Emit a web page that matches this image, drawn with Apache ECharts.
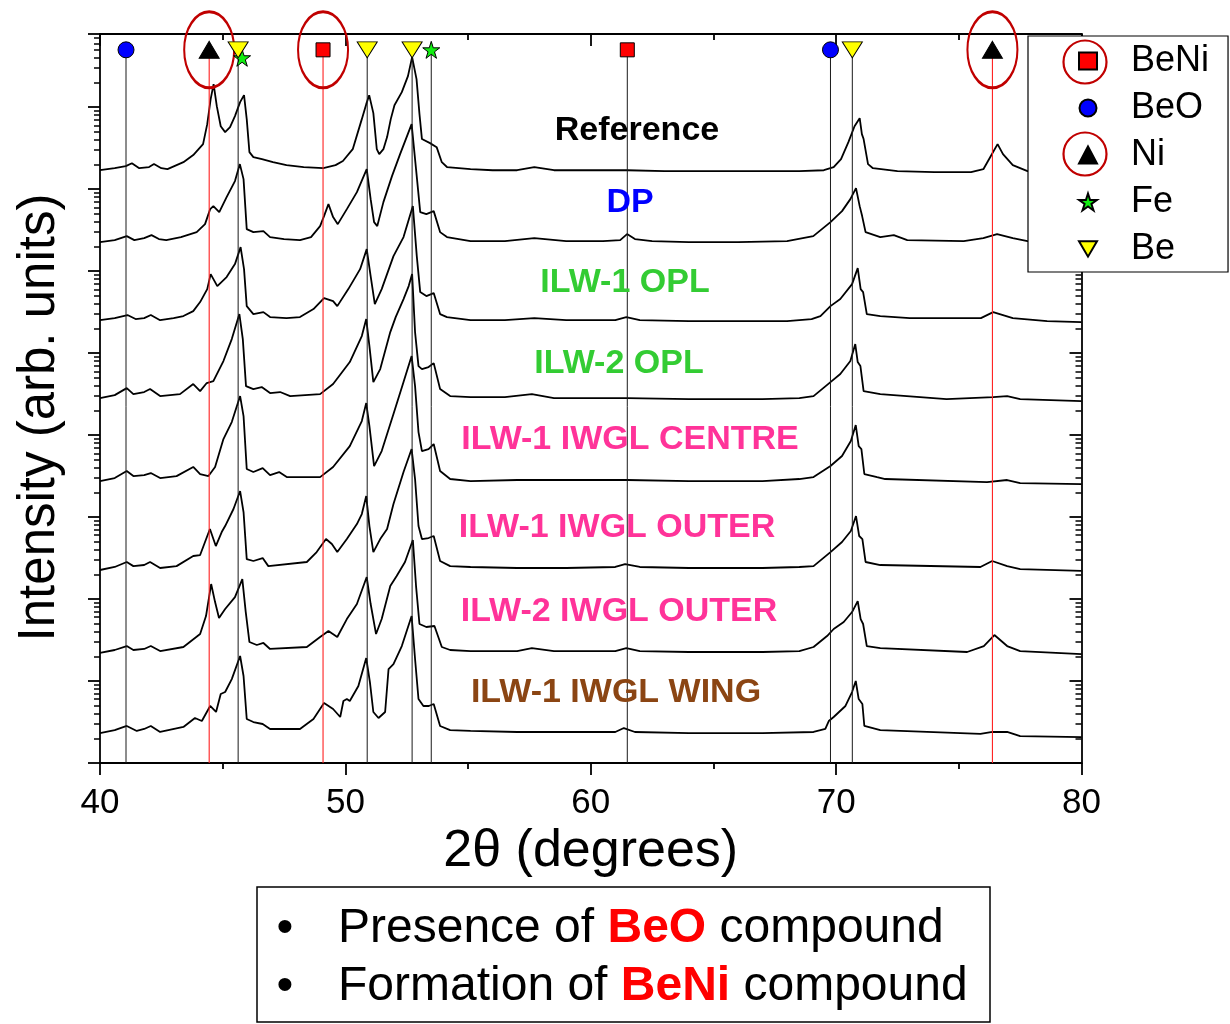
<!DOCTYPE html>
<html><head><meta charset="utf-8">
<script src="https://cdn.jsdelivr.net/npm/echarts@6/dist/echarts.min.js"></script>
<style>html,body{margin:0;padding:0;background:#fff}#c{width:1230px;height:1024px}</style>
</head><body><div id="c"></div>
<script>
// ---- DATA: XRD patterns, [2theta (deg), intensity (counts)] ----
const reference = [[40.0,170],[40.6,180],[41.05,191],[41.3,207],[41.6,180],[42.0,186],[42.2,202],[42.5,180],[42.75,175],[43.4,213],[43.8,260],[44.2,354],[44.37,620],[44.51,1253],[44.63,1908],[44.76,1028],[44.92,585],[45.1,496],[45.3,570],[45.5,777],[45.71,1151],[45.87,1400],[45.98,714],[46.09,283],[46.25,246],[46.6,232],[47.05,213],[47.6,196],[48.3,186],[49.1,180],[49.6,196],[49.9,220],[50.3,307],[50.67,714],[50.85,1088],[50.97,1400],[51.14,845],[51.28,307],[51.38,267],[51.55,307],[51.7,431],[51.85,714],[52.0,1056],[52.3,1524],[52.55,2387],[52.72,4074],[52.9,2196],[53.02,822],[53.12,408],[53.45,364],[53.72,325],[53.93,213],[54.14,186],[55.1,175],[56.0,170],[57.0,170],[57.7,186],[58.5,170],[60.0,170],[61.5,170],[63.0,166],[65.0,166],[67.0,166],[68.5,166],[69.5,170],[69.9,186],[70.2,232],[70.5,374],[70.75,585],[70.96,734],[71.05,469],[71.12,408],[71.3,202],[71.5,180],[72.5,166],[74.0,161],[75.5,161],[76.0,175],[76.3,252],[76.58,354],[76.8,267],[77.2,196],[77.8,166],[78.5,161],[80.0,161]];
const dp = [[40.0,226],[40.6,239],[41.09,267],[41.4,239],[41.8,252],[42.1,275],[42.4,246],[42.7,239],[43.3,260],[43.94,299],[44.28,374],[44.49,570],[44.62,620],[44.86,525],[45.16,800],[45.5,1253],[45.7,2018],[45.85,1325],[45.98,325],[46.25,299],[46.66,307],[46.93,260],[47.5,246],[48.15,239],[48.6,260],[48.97,354],[49.13,469],[49.31,656],[49.5,456],[49.69,374],[50.06,570],[50.47,918],[50.87,1753],[51.03,755],[51.17,396],[51.3,354],[51.55,694],[51.9,1440],[52.23,2672],[52.7,6206],[52.88,1753],[53.05,525],[53.3,496],[53.6,539],[53.86,299],[54.14,260],[55.1,232],[56.5,232],[57.7,252],[59.0,232],[60.5,232],[61.2,239],[61.48,283],[61.8,246],[62.5,232],[64.0,226],[66.0,226],[68.0,232],[69.07,267],[69.77,396],[70.24,539],[70.58,755],[70.81,1028],[70.96,620],[71.06,469],[71.2,299],[71.8,260],[72.35,275],[72.9,239],[75.2,232],[76.0,252],[76.56,283],[77.2,252],[77.8,232],[80.0,226]];
const opl1 = [[40.0,252],[40.6,267],[41.12,291],[41.45,260],[41.8,267],[42.07,291],[42.45,252],[43.0,267],[43.4,283],[43.8,325],[44.08,419],[44.37,603],[44.51,919],[44.78,656],[45.16,845],[45.5,1217],[45.73,1962],[45.87,1056],[45.98,374],[46.25,299],[46.66,316],[46.93,275],[47.6,267],[48.15,275],[48.7,344],[49.13,469],[49.5,431],[49.67,374],[50.12,603],[50.6,1056],[50.87,1855],[51.03,869],[51.2,396],[51.48,603],[51.96,1524],[52.37,2598],[52.75,6206],[52.91,1524],[53.05,555],[53.3,496],[53.6,539],[53.86,299],[54.14,275],[55.1,252],[56.5,252],[57.7,267],[59.0,252],[61.0,252],[61.45,275],[62.0,252],[64.0,246],[66.0,246],[68.0,246],[69.0,260],[69.36,283],[69.77,374],[70.17,456],[70.65,694],[70.88,1088],[71.0,603],[71.1,555],[71.25,299],[71.8,283],[73.0,267],[75.9,267],[76.4,316],[77.2,267],[78.6,246],[80.0,239]];
const opl2 = [[40.0,283],[40.6,307],[41.09,374],[41.36,316],[41.8,335],[42.04,364],[42.45,299],[43.26,316],[43.8,419],[44.08,344],[44.35,431],[44.62,456],[45.03,800],[45.37,1482],[45.68,2990],[45.82,1482],[45.95,396],[46.25,364],[46.59,385],[46.93,325],[47.34,335],[47.75,299],[48.97,316],[49.5,419],[50.18,777],[50.67,1612],[50.85,2598],[50.98,1217],[51.14,443],[51.42,638],[51.83,1804],[52.05,2749],[52.37,4556],[52.58,6565],[52.72,9195],[52.84,1804],[52.98,694],[53.12,638],[53.39,675],[53.6,755],[53.86,364],[54.27,299],[55.1,291],[56.5,291],[57.6,316],[58.5,283],[61.5,283],[64.0,275],[67.0,275],[68.5,283],[69.08,299],[69.77,443],[70.17,555],[70.58,800],[70.78,1288],[70.88,777],[70.99,694],[71.12,344],[71.8,316],[74.5,275],[76.4,291],[76.97,299],[77.5,275],[80.0,260]];
const centre = [[40.0,275],[40.6,299],[41.09,364],[41.36,316],[41.8,325],[42.07,344],[42.45,299],[43.12,316],[43.8,408],[44.08,335],[44.42,316],[44.69,408],[45.03,894],[45.37,1440],[45.71,2990],[45.85,1705],[45.98,385],[46.25,354],[46.63,396],[46.93,325],[47.3,354],[47.61,307],[48.97,307],[49.5,408],[50.18,734],[50.67,1482],[50.85,2457],[50.98,1288],[51.17,419],[51.48,638],[51.96,1804],[52.37,4431],[52.7,9195],[52.84,3959],[52.98,1088],[53.12,638],[53.39,675],[53.6,777],[53.86,364],[54.27,291],[55.1,275],[57.0,283],[59.0,283],[61.5,283],[64.0,275],[67.0,275],[68.5,291],[69.08,307],[69.77,419],[70.24,555],[70.6,845],[70.8,1325],[70.92,734],[71.03,675],[71.15,335],[71.67,307],[72.0,291],[76.15,267],[76.97,283],[77.5,260],[80.0,252]];
const outer1 = [[40.0,226],[40.6,246],[41.09,283],[41.36,252],[41.8,260],[42.04,283],[42.45,239],[43.12,252],[43.8,335],[44.08,344],[44.28,496],[44.48,714],[44.72,443],[44.96,656],[45.1,777],[45.44,1253],[45.71,2075],[45.85,1151],[45.98,307],[46.25,291],[46.63,316],[46.86,252],[48.43,283],[48.83,374],[49.21,539],[49.45,469],[49.67,374],[50.06,539],[50.47,822],[50.67,1088],[50.85,1804],[50.98,777],[51.14,374],[51.42,539],[51.7,714],[51.96,1440],[52.37,3539],[52.7,6751],[52.84,2907],[52.98,777],[53.12,539],[53.39,555],[53.6,587],[53.86,291],[54.27,252],[55.1,246],[57.0,239],[59.0,239],[61.0,246],[61.4,267],[62.0,246],[64.0,239],[67.0,239],[68.5,246],[69.08,252],[69.77,374],[70.24,496],[70.6,675],[70.81,1028],[70.94,587],[71.07,539],[71.2,283],[71.8,260],[75.88,246],[76.36,291],[76.97,252],[77.5,232],[80.0,220]];
const outer2 = [[40.0,220],[40.6,239],[41.09,267],[41.36,239],[41.8,246],[42.07,267],[42.45,232],[43.4,260],[44.08,374],[44.32,620],[44.53,1524],[44.69,918],[44.85,587],[45.1,755],[45.5,1056],[45.8,1753],[45.94,694],[46.09,299],[46.39,275],[46.66,291],[46.93,246],[48.43,260],[48.97,344],[49.31,408],[49.67,344],[50.06,570],[50.47,869],[50.87,1855],[51.03,869],[51.25,374],[51.48,570],[51.83,1440],[52.09,1908],[52.43,2826],[52.75,5243],[52.88,1440],[53.02,496],[53.3,456],[53.63,469],[53.93,260],[54.27,239],[55.1,232],[57.0,232],[57.6,252],[58.5,232],[61.0,232],[61.45,252],[62.0,232],[64.0,226],[67.0,226],[68.5,232],[69.08,260],[69.63,354],[69.9,431],[70.31,525],[70.65,694],[70.88,945],[71.0,570],[71.1,496],[71.25,267],[71.8,252],[75.34,226],[76.02,267],[76.45,364],[76.97,267],[77.5,232],[80.0,213]];
const wing = [[40.0,232],[40.6,252],[41.09,283],[41.5,246],[41.8,260],[42.07,283],[42.45,239],[43.4,275],[43.87,354],[44.15,325],[44.49,496],[44.73,419],[44.92,694],[45.1,734],[45.37,1056],[45.71,2018],[45.85,1151],[45.98,344],[46.25,316],[46.63,299],[46.93,260],[48.15,260],[48.7,344],[49.13,539],[49.5,456],[49.79,364],[49.92,570],[50.06,603],[50.18,570],[50.53,869],[50.85,1908],[51.0,972],[51.14,419],[51.35,354],[51.62,419],[51.76,1400],[51.96,1612],[52.3,2672],[52.7,6206],[52.84,1855],[52.98,603],[53.18,496],[53.4,496],[53.6,525],[53.86,283],[54.27,252],[55.1,246],[57.0,239],[59.0,239],[61.0,239],[61.35,267],[61.8,239],[64.0,232],[67.0,232],[69.08,239],[69.56,260],[69.7,325],[69.9,364],[70.38,496],[70.65,734],[70.8,1000],[70.92,603],[71.07,525],[71.15,283],[71.8,252],[75.88,226],[76.37,239],[76.97,239],[77.5,213],[80.0,207]];

const curveNames = ['Reference','DP','ILW-1 OPL','ILW-2 OPL','ILW-1 IWGL CENTRE','ILW-1 IWGL OUTER','ILW-2 IWGL OUTER','ILW-1 IWGL WING'];
const curveData = [reference, dp, opl1, opl2, centre, outer1, outer2, wing];
const stackFactors = [1e5, 1e4, 1e3, 1e2, 1e1, 1, 0.1, 0.01];

// phase reference peak positions (2theta)
const beNiPeaks = [49.09, 61.49];
const beOPeaks = [41.06, 69.77];
const niPeaks = [44.45, 76.37];
const fePeaks = [45.79, 53.50];
const bePeaks = [45.63, 50.89, 52.72, 70.66];
const markerLevel = 5.0e8;
const feLevels = [4.0e8, 5.0e8];
const redLinePeaks = [44.45, 49.09, 76.37];
const blackLinePeaks = [41.06, 45.63, 50.89, 52.72, 53.50, 61.49, 69.77, 70.66];
const circledPeaks = [44.45, 49.09, 76.37];

const xTicks = {min: 40, max: 80, interval: 10};
const yRange = {min: 1, max: 7.8e8};

// ---- styles ----
const FONT = 'Arial, "Liberation Sans", sans-serif';
const labelColors = ['#000000','#0000ff','#33cc33','#33cc33','#ff3399','#ff3399','#ff3399','#8b4513'];
const labelPos = [[637,131],[630,203],[625,283],[619,364],[630,440],[617,528],[619,612],[616,693]];
const STAR = 'path://M50,0L61.2,34.5L97.6,34.5L68.2,55.9L79.4,90.5L50,69.1L20.6,90.5L31.8,55.9L2.4,34.5L38.8,34.5Z';
const DOWN_TRI = 'path://M0,0L20,0L10,17Z';

const chart = echarts.init(document.getElementById('c'));
const series = [];

// vertical reference lines
redLinePeaks.forEach(x => series.push({type:'line', data:[[x, markerLevel],[x, yRange.min]], symbol:'none', silent:true, z:4,
  lineStyle:{color:'#ff2020', width:1.1}}));
blackLinePeaks.forEach(x => series.push({type:'line', data:[[x, markerLevel],[x, yRange.min]], symbol:'none', silent:true, z:4,
  lineStyle:{color:'#1a1a1a', width:1}}));

// XRD curves
curveData.forEach((arr, i) => series.push({
  type:'line', name: curveNames[i], data: arr.map(p => [p[0], p[1]*stackFactors[i]]),
  symbol:'none', showSymbol:false, silent:true, z:3,
  lineStyle:{color:'#000', width:1.8}
}));

// ellipses around the Ni / BeNi markers
series.push({type:'scatter', name:'circ', data: circledPeaks.map(x => [x, markerLevel]), symbol:'circle', symbolSize:[50,76],
  clip:false, silent:true, z:7, itemStyle:{color:'rgba(0,0,0,0)', borderColor:'#c00000', borderWidth:2.5, opacity:1}});

// markers
const mk = (name, xs, ys, symbol, size, color) => ({type:'scatter', name, clip:false, silent:true, z:8,
  data: xs.map((x, i) => [x, ys[i]]), symbol, symbolSize:size,
  itemStyle:{color, borderColor:'#000', borderWidth:1, opacity:1}});
series.push(mk('BeNi', beNiPeaks, beNiPeaks.map(() => markerLevel), 'rect', 14, '#ff0000'));
series.push(mk('BeO', beOPeaks, beOPeaks.map(() => markerLevel), 'circle', 16, '#0000ff'));
series.push(mk('Ni', niPeaks, niPeaks.map(() => markerLevel), 'triangle', [20,17], '#000000'));
series.push(mk('Fe', fePeaks, feLevels, STAR, 17, '#11ee11'));
series.push(mk('Be', bePeaks, bePeaks.map(() => markerLevel), DOWN_TRI, [20,16], '#ffff00'));

const axisLineStyle = {color:'#000', width:1.8};
const graphics = [];
curveNames.forEach((n, i) => graphics.push({type:'text', x:labelPos[i][0], y:labelPos[i][1], z:50,
  style:{text:n, fill:labelColors[i], font:'bold 34px ' + FONT, textAlign:'center', textVerticalAlign:'middle'}}));
// legend circles
graphics.push({type:'circle', shape:{cx:1085, cy:62, r:21.5}, style:{fill:'none', stroke:'#c00000', lineWidth:2.2}, z:200});
graphics.push({type:'circle', shape:{cx:1085, cy:154, r:21.5}, style:{fill:'none', stroke:'#c00000', lineWidth:2.2}, z:200});
// bottom note box
graphics.push({type:'rect', shape:{x:257, y:887, width:733, height:135}, style:{fill:'#fff', stroke:'#000', lineWidth:1.5}, z:50});
const noteLines = [['Presence of ', 'BeO', ' compound', 929], ['Formation of ', 'BeNi', ' compound', 987]];
noteLines.forEach(l => {
  graphics.push({type:'text', x:285, y:l[3], z:60, style:{text:'•', fill:'#000', font:'48px ' + FONT, textAlign:'center', textVerticalAlign:'middle'}});
  graphics.push({type:'text', x:338, y:l[3], z:60, style:{
    text:'{a|' + l[0] + '}{b|' + l[1] + '}{a|' + l[2] + '}', textVerticalAlign:'middle', textAlign:'left',
    rich:{a:{fontSize:48, fontFamily:FONT, fill:'#000'}, b:{fontSize:48, fontFamily:FONT, fontWeight:'bold', fill:'#ff0000'}}}});
});

chart.setOption({
  animation:false,
  backgroundColor:'#fff',
  grid:{left:100, right:148.5, top:34, bottom:261, containLabel:false},
  legend:{data:['BeNi','BeO','Ni','Fe','Be'], orient:'vertical', left:1028, top:36, padding:[5,19,3,50], itemGap:7,
    itemWidth:18, itemHeight:17, backgroundColor:'#fff', borderColor:'#000', borderWidth:1.2, selectedMode:false, z:100,
    textStyle:{fontSize:36, fontFamily:FONT, color:'#000', lineHeight:40, padding:[0,0,0,29]}},
  xAxis:[
    {type:'value', min:xTicks.min, max:xTicks.max, interval:xTicks.interval, position:'bottom',
     axisLine:{onZero:false, lineStyle:axisLineStyle}, axisTick:{inside:false, length:12, lineStyle:axisLineStyle},
     minorTick:{show:true, splitNumber:2, length:6, lineStyle:axisLineStyle},
     axisLabel:{fontSize:35, fontFamily:FONT, color:'#000', margin:23}, splitLine:{show:false},
     name:'2θ (degrees)', nameLocation:'middle', nameGap:63, nameTextStyle:{fontSize:52, fontFamily:FONT, color:'#000'}},
    {type:'value', min:xTicks.min, max:xTicks.max, interval:xTicks.interval, position:'top',
     axisLine:{onZero:false, lineStyle:axisLineStyle}, axisTick:{inside:true, length:12, lineStyle:axisLineStyle},
     minorTick:{show:true, splitNumber:2, length:6, lineStyle:axisLineStyle},
     axisLabel:{show:false}, splitLine:{show:false}}
  ],
  yAxis:[
    {type:'log', logBase:10, min:yRange.min, max:yRange.max, splitNumber:9, position:'left',
     axisLine:{onZero:false, lineStyle:axisLineStyle}, axisTick:{inside:false, length:12, lineStyle:axisLineStyle},
     minorTick:{show:true, splitNumber:9, length:6, lineStyle:{color:'#000', width:1.5}},
     axisLabel:{show:false}, splitLine:{show:false},
     name:'Intensity (arb. units)', nameLocation:'middle', nameGap:35,
     nameTextStyle:{fontSize:51, fontFamily:FONT, color:'#000', padding:[0,38,0,0]}},
    {type:'log', logBase:10, min:yRange.min, max:yRange.max, splitNumber:9, position:'right',
     axisLine:{onZero:false, lineStyle:axisLineStyle}, axisTick:{inside:true, length:12, lineStyle:axisLineStyle},
     minorTick:{show:true, splitNumber:9, length:6, lineStyle:{color:'#000', width:1.5}},
     axisLabel:{show:false}, splitLine:{show:false}}
  ],
  series: series,
  graphic: graphics
});
</script></body></html>
